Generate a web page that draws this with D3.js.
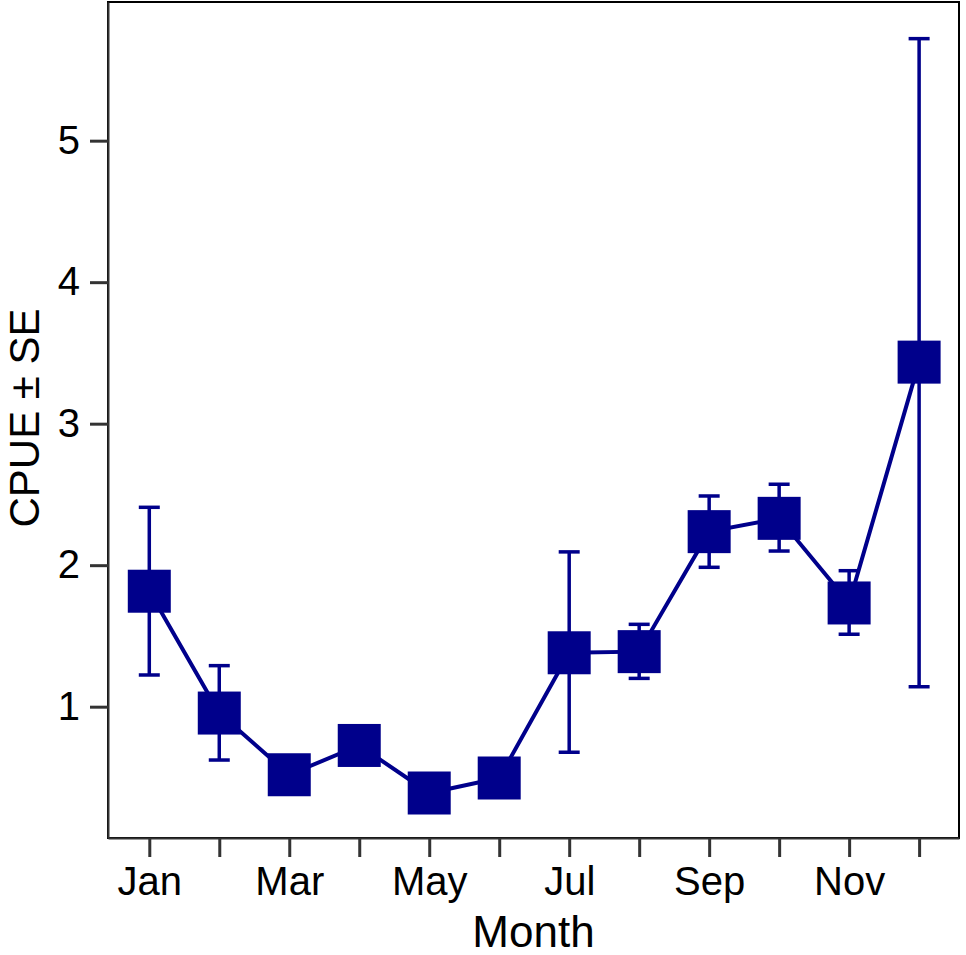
<!DOCTYPE html>
<html>
<head>
<meta charset="utf-8">
<script src="https://cdn.jsdelivr.net/npm/d3@7"></script>
<style>
  html, body { margin: 0; padding: 0; background: #fff; }
  svg { display: block; }
  text { font-family: "Liberation Sans", Arial, sans-serif; }
</style>
</head>
<body>
<script>
// ---- data ----
const months = [1,2,3,4,5,6,7,8,9,10,11,12];
const monthLabels = ["Jan","","Mar","","May","","Jul","","Sep","","Nov",""];
const cpue = [1.816, 0.955, 0.519, 0.726, 0.390, 0.496, 1.381, 1.389, 2.237, 2.331, 1.733, 3.435];
const upper = [2.409, 1.290, null, null, null, null, 2.094, 1.582, 2.489, 2.572, 1.961, 5.721];
const lower = [1.224, 0.623, null, null, null, null, 0.678, 1.200, 1.985, 2.100, 1.512, 1.141];
const yTicks = [1,2,3,4,5];

const W = 966, H = 955;
const plot = {left: 108, right: 959, top: 2, bottom: 838};
const color = "#00008B";

const svg = d3.select("body").append("svg").attr("width", W).attr("height", H);

const x = d3.scaleLinear().domain([0.41, 12.57]).range([plot.left, plot.right]);
const y = d3.scaleLinear().domain([0.072, 5.98]).range([plot.bottom, plot.top]);

// panel border
svg.append("rect")
  .attr("x", plot.left).attr("y", plot.top)
  .attr("width", plot.right - plot.left).attr("height", plot.bottom - plot.top)
  .attr("fill", "none").attr("stroke", "#000").attr("stroke-width", 2);

// axes
const xAxis = d3.axisBottom(x).tickValues(months)
  .tickFormat((d,i) => monthLabels[i]).tickSize(19).tickSizeOuter(0).tickPadding(10);
const gx = svg.append("g").attr("transform", `translate(0,${plot.bottom})`).call(xAxis);
gx.select(".domain").attr("stroke", "#333").attr("stroke-width", 2);
gx.selectAll(".tick line").attr("stroke", "#333").attr("stroke-width", 3);
gx.selectAll(".tick text").attr("font-size", 40).attr("fill", "#000")
  .attr("font-family", "Liberation Sans, Arial, sans-serif");

const yAxis = d3.axisLeft(y).tickValues(yTicks).tickFormat(d3.format("d"))
  .tickSize(18).tickSizeOuter(0).tickPadding(10);
const gy = svg.append("g").attr("transform", `translate(${plot.left},0)`).call(yAxis);
gy.select(".domain").attr("stroke", "#333").attr("stroke-width", 2);
gy.selectAll(".tick line").attr("stroke", "#333").attr("stroke-width", 3);
gy.selectAll(".tick text").attr("font-size", 40).attr("fill", "#000")
  .attr("font-family", "Liberation Sans, Arial, sans-serif");

// axis titles
svg.append("text")
  .attr("x", (plot.left + plot.right) / 2).attr("y", 946.5)
  .attr("text-anchor", "middle").attr("font-size", 44).attr("fill", "#000")
  .text("Month");
svg.append("text")
  .attr("transform", `translate(39,${(plot.top + plot.bottom) / 2 - 2}) rotate(-90)`)
  .attr("text-anchor", "middle").attr("font-size", 42).attr("fill", "#000")
  .text("CPUE ± SE");

const data = months.map((m, i) => ({m, v: cpue[i], hi: upper[i], lo: lower[i]}));

// connecting line
const line = d3.line().x(d => x(d.m)).y(d => y(d.v));
svg.append("path").datum(data)
  .attr("d", line).attr("fill", "none")
  .attr("stroke", color).attr("stroke-width", 4);

// error bars
const eb = data.filter(d => d.hi !== null);
const capW = 10.5;
const ge = svg.append("g").attr("stroke", color).attr("stroke-width", 3.5);
ge.selectAll(".v").data(eb).join("line")
  .attr("x1", d => x(d.m)).attr("x2", d => x(d.m))
  .attr("y1", d => y(d.hi)).attr("y2", d => y(d.lo));
ge.selectAll(".t").data(eb).join("line")
  .attr("x1", d => x(d.m) - capW).attr("x2", d => x(d.m) + capW)
  .attr("y1", d => y(d.hi)).attr("y2", d => y(d.hi));
ge.selectAll(".b").data(eb).join("line")
  .attr("x1", d => x(d.m) - capW).attr("x2", d => x(d.m) + capW)
  .attr("y1", d => y(d.lo)).attr("y2", d => y(d.lo));

// square markers
const s = 43;
svg.append("g").selectAll("rect").data(data).join("rect")
  .attr("x", d => x(d.m) - s / 2).attr("y", d => y(d.v) - s / 2)
  .attr("width", s).attr("height", s).attr("fill", color);
</script>
</body>
</html>
